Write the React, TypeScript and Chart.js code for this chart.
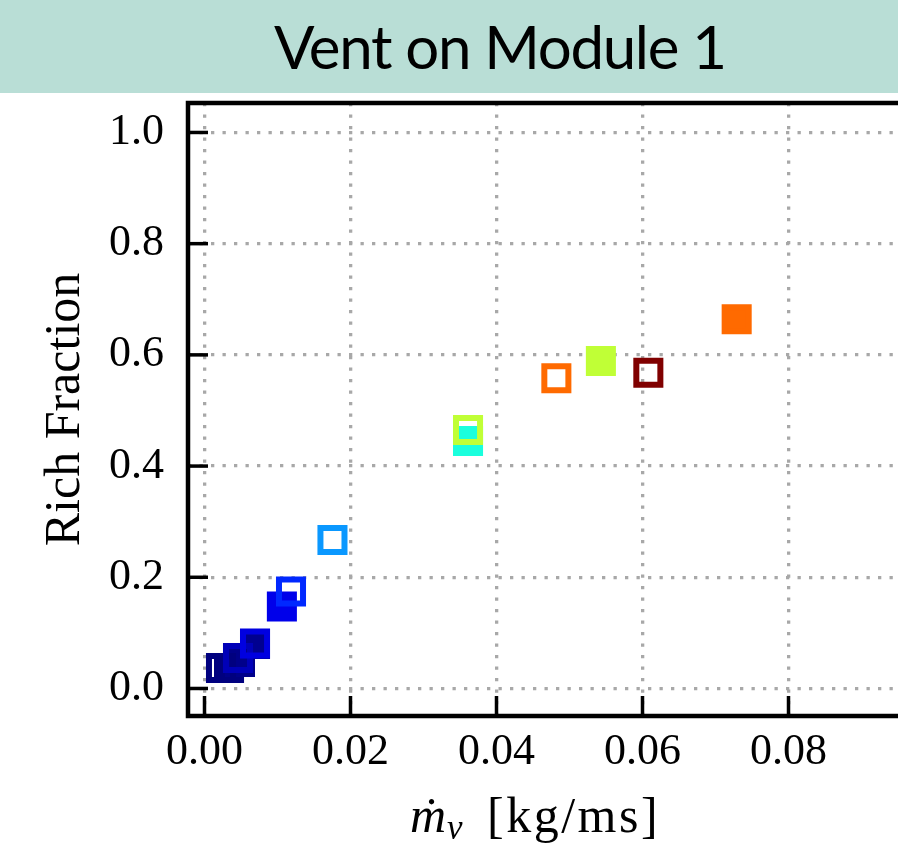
import React, { useEffect, useRef } from 'react';
import { Chart, registerables } from 'chart.js';

Chart.register(...registerables);

// ---- data ----
const titleText = 'Vent on Module 1';
const yAxisTitle = 'Rich Fraction';
const xAxisTitleVar = 'ṁ';
const xAxisTitleSub = 'v';
const xAxisTitleUnit = '[kg/ms]';

const xTickValues = [0, 0.02, 0.04, 0.06, 0.08];
const xTickLabels = ['0.00', '0.02', '0.04', '0.06', '0.08'];
const yTickValues = [0, 0.2, 0.4, 0.6, 0.8, 1.0];
const yTickLabels = ['0.0', '0.2', '0.4', '0.6', '0.8', '1.0'];

const xMin = -0.00226;
const xMax = 0.095;
const yMin = -0.0495;
const yMax = 1.053;

// filled squares
const filledX = [0.00336, 0.00486, 0.00692, 0.0106, 0.0361, 0.0543, 0.0729];
const filledY = [0.0369, 0.0477, 0.080, 0.1475, 0.445, 0.589, 0.664];
const filledColors = ['#00007f', '#00008a', '#000090', '#0000ea', '#1affdd', '#c0ff36', '#ff6a00'];

// hollow squares
const hollowX = [0.00226, 0.00459, 0.00692, 0.01185, 0.01753, 0.0361, 0.0482, 0.0608];
const hollowY = [0.037, 0.0549, 0.081, 0.1745, 0.267, 0.465, 0.558, 0.568];
const hollowColors = ['#00007f', '#0000b8', '#0000e0', '#0028ff', '#0a98ff', '#c0ff36', '#ff6a00', '#800000'];

const SERIF = '"Liberation Serif", "Times New Roman", serif';

function zeroPadding(s: any) {
  s.paddingLeft = 0;
  s.paddingRight = 0;
  s.paddingTop = 0;
  s.paddingBottom = 0;
}

export default function App() {
  const ref = useRef<HTMLCanvasElement>(null);

  useEffect(() => {
    const canvas = ref.current;
    if (!canvas) return;

    const framePlugin = {
      id: 'frame',
      afterDraw(chart: any) {
        const { ctx, chartArea } = chart;
        const { left, right, top, bottom } = chartArea;
        const xs = chart.scales.x;
        const ys = chart.scales.y;
        ctx.save();
        ctx.strokeStyle = '#000';
        // inward ticks
        ctx.lineWidth = 3.5;
        ctx.lineCap = 'butt';
        yTickValues.forEach((v) => {
          const p = ys.getPixelForValue(v);
          ctx.beginPath();
          ctx.moveTo(left, p);
          ctx.lineTo(left + 20, p);
          ctx.stroke();
        });
        xTickValues.forEach((v) => {
          const p = xs.getPixelForValue(v);
          ctx.beginPath();
          ctx.moveTo(p, bottom);
          ctx.lineTo(p, bottom - 20);
          ctx.stroke();
        });
        // spines
        ctx.lineWidth = 4.5;
        ctx.lineCap = 'square';
        ctx.beginPath();
        ctx.moveTo(right + 5, top);
        ctx.lineTo(left, top);
        ctx.lineTo(left, bottom);
        ctx.lineTo(right + 5, bottom);
        ctx.stroke();

        // x axis title with italic variable and subscript
        ctx.fillStyle = '#000';
        ctx.textBaseline = 'alphabetic';
        ctx.textAlign = 'left';
        const baseY = 832;
        let x = 410;
        ctx.font = `italic 50px ${SERIF}`;
        ctx.fillText(xAxisTitleVar, x, baseY);
        x += ctx.measureText(xAxisTitleVar).width + 1;
        ctx.font = `italic 35px ${SERIF}`;
        ctx.fillText(xAxisTitleSub, x, baseY + 7);
        ctx.font = `50px ${SERIF}`;
        (ctx as any).letterSpacing = '2.5px';
        ctx.fillText(xAxisTitleUnit, 487, baseY);
        (ctx as any).letterSpacing = '0px';
        ctx.restore();
      },
    };

    const chart = new Chart(canvas, {
      type: 'scatter',
      data: {
        datasets: [
          {
            // hollow squares: first dataset is drawn on top
            data: hollowX.map((x, i) => ({ x, y: hollowY[i] })),
            pointStyle: 'rect',
            pointRadius: 17,
            pointHoverRadius: 17,
            borderWidth: 6,
            backgroundColor: 'rgba(0,0,0,0)',
            borderColor: hollowColors,
          },
          {
            data: filledX.map((x, i) => ({ x, y: filledY[i] })),
            pointStyle: 'rect',
            pointRadius: 17,
            pointHoverRadius: 17,
            borderWidth: 6,
            backgroundColor: filledColors,
            borderColor: filledColors,
          },
        ],
      },
      options: {
        responsive: false,
        animation: false,
        devicePixelRatio: 1,
        events: [],
        layout: { autoPadding: false, padding: { top: 103, left: 0, right: 0, bottom: 0 } },
        plugins: {
          legend: { display: false },
          tooltip: { enabled: false },
          title: { display: false },
        },
        scales: {
          x: {
            type: 'linear',
            min: xMin,
            max: xMax,
            z: 1,
            afterFit(s: any) {
              s.height = 137;
              zeroPadding(s);
            },
            afterBuildTicks(s: any) {
              s.ticks = xTickValues.map((v) => ({ value: v }));
            },
            ticks: {
              autoSkip: false,
              maxRotation: 0,
              padding: 10,
              color: '#000',
              font: { family: SERIF, size: 44 },
              callback: (v: any) => {
                const i = xTickValues.findIndex((t) => Math.abs(t - Number(v)) < 1e-9);
                return i >= 0 ? xTickLabels[i] : '';
              },
            },
            grid: { color: '#a8a8a8', lineWidth: 3.3, drawTicks: false },
            border: { display: false, dash: [3.3, 8.2] },
            title: { display: false },
          },
          y: {
            type: 'linear',
            min: yMin,
            max: yMax,
            z: 1,
            afterFit(s: any) {
              s.width = 188;
              zeroPadding(s);
            },
            afterBuildTicks(s: any) {
              s.ticks = yTickValues.map((v) => ({ value: v }));
            },
            ticks: {
              autoSkip: false,
              padding: 24,
              color: '#000',
              font: { family: SERIF, size: 44 },
              callback: (v: any) => {
                const i = yTickValues.findIndex((t) => Math.abs(t - Number(v)) < 1e-9);
                return i >= 0 ? yTickLabels[i] : '';
              },
            },
            grid: { color: '#a8a8a8', lineWidth: 3.3, drawTicks: false },
            border: { display: false, dash: [3.3, 8.2] },
            title: {
              display: true,
              text: yAxisTitle,
              color: '#000',
              font: { family: SERIF, size: 50 },
              padding: { top: 36, bottom: 0 },
            },
          },
        },
      },
      plugins: [framePlugin],
    } as any);

    return () => chart.destroy();
  }, []);

  return (
    <div
      style={{
        position: 'absolute',
        left: 0,
        top: 0,
        width: 898,
        height: 853,
        overflow: 'hidden',
        background: '#ffffff',
      }}
    >
      <canvas
        ref={ref}
        width={898}
        height={853}
        style={{ position: 'absolute', left: 0, top: 0, width: 898, height: 853, display: 'block' }}
      />
      <div
        style={{
          position: 'absolute',
          left: 0,
          top: 0,
          width: 898,
          height: 93,
          boxSizing: 'border-box',
          paddingLeft: 274,
          background: '#b9ded6',
          fontFamily: 'Lato, "Open Sans", sans-serif',
          fontSize: 60,
          letterSpacing: '-1.3px',
          lineHeight: '93px',
          color: '#000',
          whiteSpace: 'nowrap',
        }}
      >
        {titleText}
      </div>
    </div>
  );
}
